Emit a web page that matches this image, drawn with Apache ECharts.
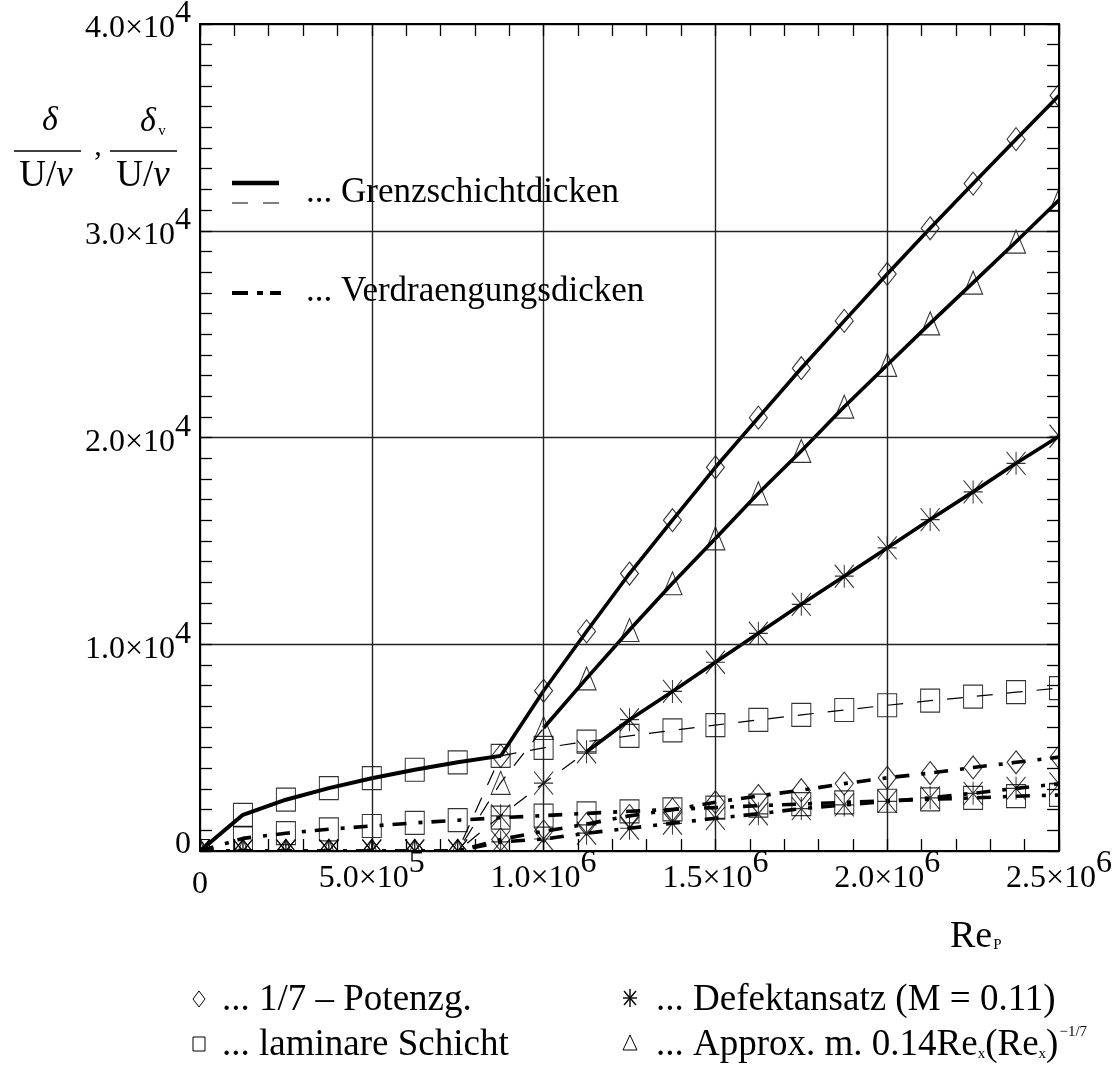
<!DOCTYPE html>
<html>
<head>
<meta charset="utf-8">
<script src="https://cdn.jsdelivr.net/npm/echarts@6/dist/echarts.min.js"></script>
<style>
  html, body { margin: 0; padding: 0; background: #fff; }
  #chart { width: 1117px; height: 1084px; }
</style>
</head>
<body>
<div id="chart"></div>
<script>
// Reynolds number stations Re_p
const rep = [0, 125000, 250000, 375000, 500000, 625000, 750000, 875000, 1000000, 1125000,
  1250000, 1375000, 1500000, 1625000, 1750000, 1875000, 2000000, 2125000, 2250000, 2375000, 2500000];

// laminar layer (squares): thickness and displacement thickness
const laminarDelta = [0, 1750, 2480, 3040, 3520, 3930, 4290, 4600, 4990, 5290, 5570, 5830,
  6090, 6340, 6580, 6820, 7050, 7270, 7470, 7680, 7880];
const laminarDisp = [0, 610, 860, 1050, 1210, 1360, 1490, 1610, 1710, 1820, 1920, 2010,
  2100, 2190, 2270, 2350, 2430, 2500, 2570, 2650, 2710];

// 1/7 power law (diamonds)
const powerDelta = [0, 0, 0, 0, 0, 0, 0, 4600, 7750, 10620, 13420, 16000, 18560, 20960,
  23350, 25640, 27910, 30120, 32280, 34430, 36540];
const powerDisp = [0, 0, 0, 0, 0, 0, 0, 560, 950, 1300, 1700, 2000, 2360, 2660, 2940,
  3260, 3540, 3770, 4040, 4290, 4540];

// defect law, M = 0.11 (asterisks)
const defectDelta = [0, 0, 0, 0, 0, 0, 0, 1700, 3280, 4800, 6350, 7720, 9130, 10530,
  11930, 13290, 14660, 16030, 17370, 18750, 20060];
const defectDisp = [0, 0, 0, 0, 0, 0, 0, 440, 580, 860, 1100, 1340, 1580, 1800, 2050,
  2230, 2400, 2570, 2790, 3030, 3250];

// approximation 0.14 Re_x (Re_x)^-1/7 (triangles)
const approxDelta = [0, 0, 0, 0, 0, 0, 0, 3300, 5950, 8350, 10690, 12950, 15120, 17300,
  19350, 21490, 23510, 25520, 27490, 29470, 31490];

// index where each curve switches between thin dashed and thick solid
const laminarSolidEnd = 7;
const powerSolidStart = 7;
const defectSolidStart = 9;
const approxSolidStart = 8;

// tick labels: mantissa and power of ten
const xTickMant = ['0', '5.0', '1.0', '1.5', '2.0', '2.5'];
const xTickExp = ['', '5', '6', '6', '6', '6'];
const yTickMant = ['0', '1.0', '2.0', '3.0', '4.0'];
const yTickExp = ['', '4', '4', '4', '4'];

const FONT = '"Liberation Serif", "DejaVu Serif", serif';
const BLACK = '#000';

const THICK = 3.6;
const THIN = 1.2;
const DASH = [16, 14];
const DASH_DOT = [14, 12, 4, 9];

const ASTERISK = 'path://M10 0 L10 24 M0 12 L20 12 M0 0 L20 24 M20 0 L0 24';

function pts(vals, a, b) {
  const out = [];
  for (let i = a; i <= b; i++) out.push([rep[i], vals[i]]);
  return out;
}

function lineSeries(data, width, dash) {
  return {
    type: 'line', data: data, showSymbol: false, symbol: 'none', silent: true,
    z: 2, clip: true,
    lineStyle: { color: BLACK, width: width, type: dash || 'solid', cap: 'butt', join: 'round' }
  };
}

function markerSeries(vals, symbol, size) {
  return {
    type: 'scatter', data: pts(vals, 0, vals.length - 1), symbol: symbol, symbolSize: size,
    silent: true, z: 3,
    itemStyle: { color: 'rgba(0,0,0,0)', borderColor: BLACK, borderWidth: 1.1 }
  };
}

const last = rep.length - 1;

const series = [
  // boundary-layer thicknesses
  lineSeries(pts(laminarDelta, 0, laminarSolidEnd), THICK + 0.4),
  lineSeries(pts(laminarDelta, laminarSolidEnd, last), THIN, DASH),
  lineSeries(pts(powerDelta, 0, powerSolidStart), THIN, DASH),
  lineSeries(pts(powerDelta, powerSolidStart, last), THICK),
  lineSeries(pts(defectDelta, 0, defectSolidStart), THIN, DASH),
  lineSeries(pts(defectDelta, defectSolidStart, last), THICK),
  lineSeries(pts(approxDelta, 0, approxSolidStart), THIN, DASH),
  lineSeries(pts(approxDelta, approxSolidStart, last), THICK),
  // displacement thicknesses
  lineSeries(pts(laminarDisp, 0, last), THICK, DASH_DOT),
  lineSeries(pts(powerDisp, 0, last), THICK, DASH_DOT),
  lineSeries(pts(defectDisp, 0, last), THICK, DASH_DOT),
  // markers
  markerSeries(laminarDelta, 'rect', [19, 23]),
  markerSeries(laminarDisp, 'rect', [19, 23]),
  markerSeries(powerDelta, 'diamond', [18, 23]),
  markerSeries(powerDisp, 'diamond', [18, 23]),
  markerSeries(defectDelta, ASTERISK, [19, 23]),
  markerSeries(defectDisp, ASTERISK, [19, 23]),
  markerSeries(approxDelta, 'triangle', [19, 23])
];

const TS = 32;
const tickRich = {
  m: { fontFamily: FONT, fontSize: TS, color: BLACK, lineHeight: TS, verticalAlign: 'bottom' },
  e: { fontFamily: FONT, fontSize: TS, color: BLACK, lineHeight: TS, verticalAlign: 'bottom', padding: [0, 0, 15, 0] },
  zx: { fontFamily: FONT, fontSize: TS, color: BLACK, lineHeight: TS, padding: [11, 0, 0, 0] },
  zy: { fontFamily: FONT, fontSize: TS, color: BLACK, lineHeight: TS, padding: [0, 0, 22, 0] }
};

function xLabel(v) {
  const i = Math.round(v / 500000);
  if (!xTickExp[i]) return '{zx|' + xTickMant[i] + '}';
  return '{m|' + xTickMant[i] + '×10}{e|' + xTickExp[i] + '}';
}
function yLabel(v) {
  const i = Math.round(v / 10000);
  if (!yTickExp[i]) return '{zy|' + yTickMant[i] + '}';
  return '{m|' + yTickMant[i] + '×10}{e|' + yTickExp[i] + '}';
}

const frameLine = { show: true, onZero: false, lineStyle: { color: BLACK, width: 2 } };
const innerTick = { show: true, inside: true, length: 12, lineStyle: { color: BLACK, width: 1.3 } };
const gridLine = { show: true, lineStyle: { color: '#222', width: 1.4 } };

const option = {
  animation: false,
  backgroundColor: '#fff',
  grid: { left: 200, top: 24, width: 859, height: 827, containLabel: false, outerBoundsMode: 'none' },
  xAxis: [
    {
      type: 'value', position: 'bottom', min: 0, max: 2500000, interval: 500000, z: 10,
      axisLine: frameLine, axisTick: innerTick,
      minorTick: { show: true, splitNumber: 5, length: 12, lineStyle: { color: BLACK, width: 1.3 } },
      splitLine: gridLine,
      axisLabel: { margin: 12, formatter: xLabel, rich: tickRich, hideOverlap: false, showMinLabel: true, showMaxLabel: true }
    },
    {
      type: 'value', position: 'top', min: 0, max: 2500000, interval: 500000, z: 10,
      axisLine: frameLine, axisTick: innerTick,
      minorTick: { show: true, splitNumber: 5, length: 12, lineStyle: { color: BLACK, width: 1.3 } },
      splitLine: { show: false }, axisLabel: { show: false }
    }
  ],
  yAxis: [
    {
      type: 'value', position: 'left', min: 0, max: 40000, interval: 10000, z: 10,
      axisLine: frameLine, axisTick: innerTick,
      minorTick: { show: true, splitNumber: 10, length: 12, lineStyle: { color: BLACK, width: 1.3 } },
      splitLine: gridLine,
      axisLabel: { margin: 9, padding: [10, 0, 0, 0], formatter: yLabel, rich: tickRich, showMinLabel: true, showMaxLabel: true }
    },
    {
      type: 'value', position: 'right', min: 0, max: 40000, interval: 10000, z: 10,
      axisLine: frameLine, axisTick: innerTick,
      minorTick: { show: true, splitNumber: 10, length: 12, lineStyle: { color: BLACK, width: 1.3 } },
      splitLine: { show: false }, axisLabel: { show: false }
    }
  ],
  series: series
};

const chart = echarts.init(document.getElementById('chart'), null, { renderer: 'canvas' });
chart.setOption(option);

// plot frame in pixels, from the axis scales
const p0 = chart.convertToPixel({ xAxisIndex: 0, yAxisIndex: 0 }, [0, 0]);
const p1 = chart.convertToPixel({ xAxisIndex: 0, yAxisIndex: 0 }, [2500000, 40000]);
const L = p0[0], B = p0[1], R = p1[0], T = p1[1];
const M = 16;

function txt(x, y, text, size) {
  return {
    type: 'text', x: x, y: y, z: 20, silent: true,
    style: { text: text, font: size + 'px ' + FONT, fill: BLACK, textAlign: 'left', textVerticalAlign: 'middle' }
  };
}
function seg(x1, y1, x2, y2, w, dash) {
  return {
    type: 'line', z: 20, silent: true,
    shape: { x1: x1, y1: y1, x2: x2, y2: y2 },
    style: { stroke: BLACK, lineWidth: w, lineDash: dash || null, lineCap: 'butt' }
  };
}
function poly(points) {
  return {
    type: 'polygon', z: 20, silent: true, shape: { points: points },
    style: { fill: 'none', stroke: BLACK, lineWidth: 1 }
  };
}
// small key glyphs, centred on (cx, cy)
function keyDiamond(cx, cy) { return poly([[cx, cy - 8], [cx + 6, cy], [cx, cy + 8], [cx - 6, cy]]); }
function keySquare(cx, cy) { return poly([[cx - 6, cy - 7], [cx + 6, cy - 7], [cx + 6, cy + 7], [cx - 6, cy + 7]]); }
function keyTriangle(cx, cy) { return poly([[cx, cy - 8], [cx + 7, cy + 7], [cx - 7, cy + 7]]); }
function keyAsterisk(cx, cy) {
  return {
    type: 'group', z: 20, silent: true,
    children: [
      seg(cx, cy - 9, cx, cy + 9, 1.4), seg(cx - 7, cy, cx + 7, cy, 1.4),
      seg(cx - 6, cy - 7, cx + 6, cy + 7, 1.4), seg(cx + 6, cy - 7, cx - 6, cy + 7, 1.4)
    ]
  };
}

const fracRich = {
  u: { fontFamily: FONT, fontSize: 37, color: BLACK },
  n: { fontFamily: FONT, fontSize: 37, fontStyle: 'italic', color: BLACK }
};

const graphics = [
  // masks keep markers inside the plot frame
  { type: 'rect', z: 5, silent: true, shape: { x: L - M, y: T - M, width: M, height: B - T + 2 * M }, style: { fill: '#fff' } },
  { type: 'rect', z: 5, silent: true, shape: { x: R, y: T - M, width: M, height: B - T + 2 * M }, style: { fill: '#fff' } },
  { type: 'rect', z: 5, silent: true, shape: { x: L - M, y: B, width: R - L + 2 * M, height: M }, style: { fill: '#fff' } },

  // y axis title: delta/(U/nu), delta_v/(U/nu)
  { type: 'text', x: 50, y: 121, z: 20, silent: true, style: { text: 'δ', font: 'italic 34px ' + FONT, fill: BLACK, textAlign: 'center', textVerticalAlign: 'middle' } },
  seg(14, 151, 81, 151, 1.5),
  { type: 'text', x: 46, y: 176, z: 20, silent: true, style: { text: '{u|U/}{n|ν}', rich: fracRich, textAlign: 'center', textVerticalAlign: 'middle' } },
  { type: 'text', x: 98, y: 147, z: 20, silent: true, style: { text: ',', font: '30px ' + FONT, fill: BLACK, textAlign: 'center', textVerticalAlign: 'middle' } },
  { type: 'text', x: 148, y: 122, z: 20, silent: true, style: { text: 'δ', font: 'italic 34px ' + FONT, fill: BLACK, textAlign: 'center', textVerticalAlign: 'middle' } },
  { type: 'text', x: 162, y: 131, z: 20, silent: true, style: { text: 'v', font: '15px ' + FONT, fill: BLACK, textAlign: 'center', textVerticalAlign: 'middle' } },
  seg(110, 151, 177, 151, 1.5),
  { type: 'text', x: 143, y: 176, z: 20, silent: true, style: { text: '{u|U/}{n|ν}', rich: fracRich, textAlign: 'center', textVerticalAlign: 'middle' } },

  // line-style key inside the plot
  seg(232, 183, 279, 183, 4.5),
  seg(232, 203, 279, 203, THIN, [16, 15]),
  txt(306, 193, '... Grenzschichtdicken', 35),
  seg(232, 293, 281, 293, 4, [16, 9, 6, 7]),
  txt(306, 292, '... Verdraengungsdicken', 35),

  // x axis title
  {
    type: 'text', x: 950, y: 937, z: 20, silent: true,
    style: {
      text: '{a|Re}{s|P}', textAlign: 'left', textVerticalAlign: 'middle',
      rich: {
        a: { fontFamily: FONT, fontSize: 38, color: BLACK, verticalAlign: 'bottom', lineHeight: 38 },
        s: { fontFamily: FONT, fontSize: 15, color: BLACK, verticalAlign: 'bottom', lineHeight: 15, padding: [0, 0, 3, 1] }
      }
    }
  },

  // marker key below the plot
  keyDiamond(199, 999),
  txt(222, 1000, '... 1/7 – Potenzg.', 37),
  keyAsterisk(630, 998),
  txt(656, 1000, '... Defektansatz (M = 0.11)', 37),
  keySquare(199, 1044),
  txt(222, 1045, '... laminare Schicht', 37),
  keyTriangle(630, 1043),
  {
    type: 'text', x: 656, y: 1045, z: 20, silent: true,
    style: {
      text: '{a|... Approx. m. 0.14Re}{b|x}{a|(Re}{b|x}{a|)}{c|−1/7}',
      textAlign: 'left', textVerticalAlign: 'middle',
      rich: {
        a: { fontFamily: FONT, fontSize: 37, color: BLACK, verticalAlign: 'bottom', lineHeight: 37 },
        b: { fontFamily: FONT, fontSize: 15, color: BLACK, verticalAlign: 'bottom', lineHeight: 15, padding: [0, 0, 2, 0] },
        c: { fontFamily: FONT, fontSize: 15, color: BLACK, verticalAlign: 'bottom', lineHeight: 15, padding: [0, 0, 24, 1] }
      }
    }
  }
];

chart.setOption({ graphic: graphics });
</script>
</body>
</html>
